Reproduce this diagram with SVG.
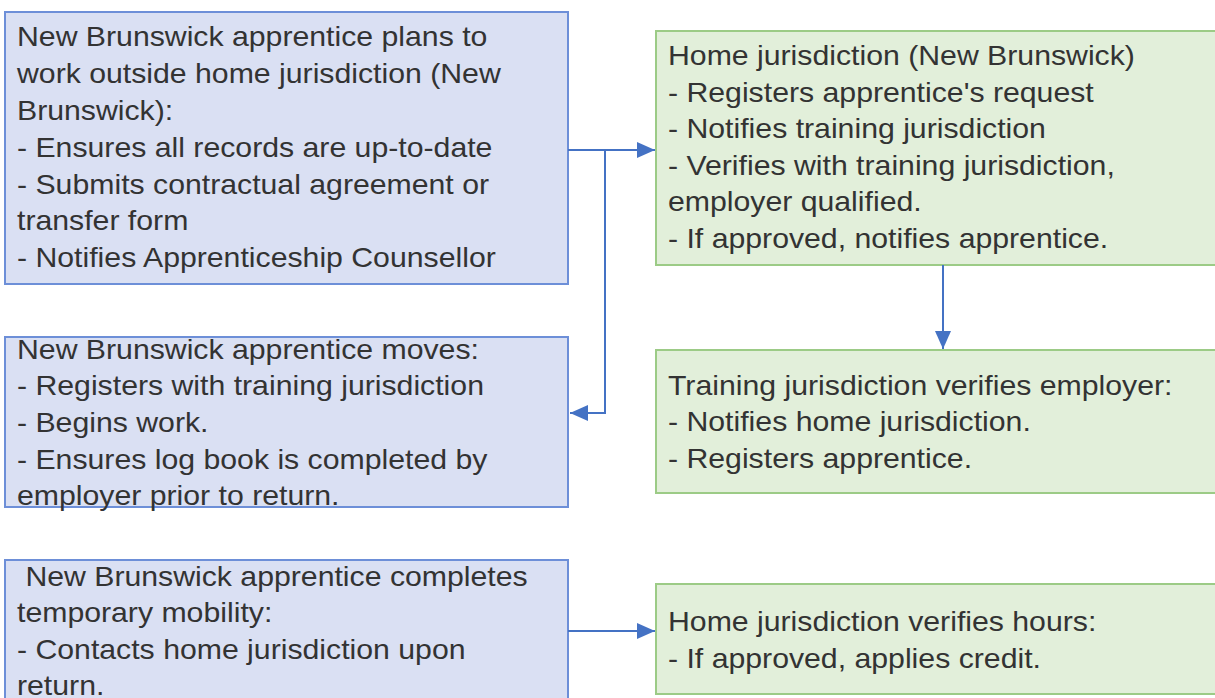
<svg xmlns="http://www.w3.org/2000/svg" width="1215" height="698" viewBox="0 0 1215 698">
<style>
.blue{fill:#dae0f3;stroke:#6d8fd8;stroke-width:2}
.green{fill:#e2efda;stroke:#9ccb86;stroke-width:2}
text{font-family:"Liberation Sans",Arial,sans-serif;font-size:28px;fill:#333333}
.conn{fill:none;stroke:#4472c4;stroke-width:2}
</style>
<defs>
<marker id="arr" markerWidth="20" markerHeight="20" refX="18" refY="10" orient="auto" markerUnits="userSpaceOnUse" viewBox="0 0 20 20">
<path d="M0,2 L18,10 L0,18 Z" fill="#4472c4"/>
</marker>
</defs>
<g id="nodeA">
<rect class="blue" x="5" y="12" width="563" height="272"/>
<g transform="matrix(1.08,0,0,1,17,0)">
<text x="0" y="46">New Brunswick apprentice plans to</text>
<text x="0" y="83">work outside home jurisdiction (New</text>
<text x="0" y="120">Brunswick):</text>
<text x="0" y="157">- Ensures all records are up-to-date</text>
<text x="0" y="194">- Submits contractual agreement or</text>
<text x="0" y="230">transfer form</text>
<text x="0" y="267">- Notifies Apprenticeship Counsellor</text>
</g>
</g>
<g id="nodeB">
<rect class="blue" x="5" y="337" width="563" height="170"/>
<g transform="matrix(1.08,0,0,1,17,0)">
<text x="0" y="359">New Brunswick apprentice moves:</text>
<text x="0" y="395">- Registers with training jurisdiction</text>
<text x="0" y="432">- Begins work.</text>
<text x="0" y="469">- Ensures log book is completed by</text>
<text x="0" y="505">employer prior to return.</text>
</g>
</g>
<g id="nodeC">
<rect class="blue" x="5" y="560" width="563" height="150"/>
<g transform="matrix(1.08,0,0,1,17,0)">
<text x="0" y="586" xml:space="preserve"> New Brunswick apprentice completes</text>
<text x="0" y="622">temporary mobility:</text>
<text x="0" y="659">- Contacts home jurisdiction upon</text>
<text x="0" y="695">return.</text>
</g>
</g>
<g id="nodeD">
<rect class="green" x="656" y="31" width="570" height="234"/>
<g transform="matrix(1.08,0,0,1,668,0)">
<text x="0" y="65">Home jurisdiction (New Brunswick)</text>
<text x="0" y="102">- Registers apprentice's request</text>
<text x="0" y="138">- Notifies training jurisdiction</text>
<text x="0" y="175">- Verifies with training jurisdiction,</text>
<text x="0" y="211">employer qualified.</text>
<text x="0" y="248">- If approved, notifies apprentice.</text>
</g>
</g>
<g id="nodeE">
<rect class="green" x="656" y="350" width="570" height="143"/>
<g transform="matrix(1.08,0,0,1,668,0)">
<text x="0" y="395">Training jurisdiction verifies employer:</text>
<text x="0" y="431">- Notifies home jurisdiction.</text>
<text x="0" y="468">- Registers apprentice.</text>
</g>
</g>
<g id="nodeF">
<rect class="green" x="656" y="584" width="570" height="110"/>
<g transform="matrix(1.08,0,0,1,668,0)">
<text x="0" y="631">Home jurisdiction verifies hours:</text>
<text x="0" y="668">- If approved, applies credit.</text>
</g>
</g>
<g id="connectors">
<path class="conn" d="M568,150 L655,150" marker-end="url(#arr)"/>
<path class="conn" d="M605,150 L605,413 L570,413" marker-end="url(#arr)"/>
<path class="conn" d="M943,265 L943,349" marker-end="url(#arr)"/>
<path class="conn" d="M568,631 L655,631" marker-end="url(#arr)"/>
</g>
</svg>
